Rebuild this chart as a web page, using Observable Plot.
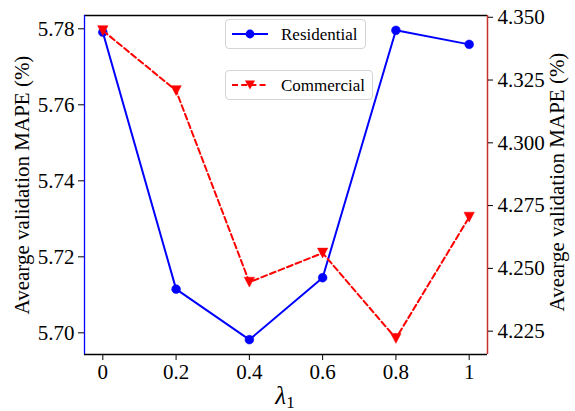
<!DOCTYPE html>
<html>
<head>
<meta charset="utf-8">
<script src="https://cdn.jsdelivr.net/npm/d3@7"></script>
<script src="https://cdn.jsdelivr.net/npm/@observablehq/plot@0.6"></script>
<style>
  html, body { margin: 0; padding: 0; background: #fff; }
  #wrap { position: relative; width: 575px; height: 411px; font-family: "Liberation Serif", "Times New Roman", serif; }
  #wrap > svg { position: absolute; left: 0; top: 0; overflow: visible; }
  #wrap svg, #wrap svg text { font-family: "Liberation Serif", "Times New Roman", serif !important; }
  .legend { position: absolute; border: 1px solid #d4d4d4; border-radius: 4px; background: rgba(255,255,255,0.85); font-size: 17px; box-sizing: border-box; }
  .legend span { position: absolute; left: 55px; top: 50%; transform: translateY(-50%); white-space: nowrap; color: #000; line-height: 1; }
  #xlabel { position: absolute; left: 285px; top: 397px; transform: translate(-50%, -50%); font-size: 25px; line-height: 1; white-space: nowrap; }
  #xlabel sub { font-size: 17px; font-style: normal; vertical-align: -4px; line-height: 1; }
</style>
</head>
<body>
<div id="wrap"></div>
<script>
// ---- data ----
const lambdas = [0, 0.2, 0.4, 0.6, 0.8, 1];
const residential = [5.7791, 5.7115, 5.6982, 5.7145, 5.7796, 5.7759];
const commercial = [4.3447, 4.3208, 4.2445, 4.2561, 4.2221, 4.2704];
const xTicks = [0, 0.2, 0.4, 0.6, 0.8, 1];
const xTickLabels = ["0", "0.2", "0.4", "0.6", "0.8", "1"];
const leftTicks = [5.70, 5.72, 5.74, 5.76, 5.78];
const rightTicks = [4.225, 4.250, 4.275, 4.300, 4.325, 4.350];
const seriesNames = ["Residential", "Commercial"];
const yLabel = "Avearge validation MAPE (%)";

// ---- layout ----
const W = 575, H = 411;
const margins = {marginLeft: 84, marginRight: 88, marginTop: 15, marginBottom: 57};
const xDomain = [-0.05, 1.05];
const leftDomain = [5.6943, 5.7835];
const rightDomain = [4.2157, 4.3507];
const blue = "#0000ff", red = "#ff0000", redSpine = "#c8302c";
const font = {fontFamily: "Liberation Serif, serif", fontSize: "21px", background: "transparent", color: "#000", overflow: "visible"};

const resData = lambdas.map((x, i) => ({x, y: residential[i]}));
const comData = lambdas.map((x, i) => ({x, y: commercial[i]}));

const triangleDown = {
  draw(ctx, size) {
    const r = Math.sqrt(size / Math.PI);
    const w = r * 1.0, h = r * 0.95;
    ctx.moveTo(-w, -h);
    ctx.lineTo(w, -h);
    ctx.lineTo(0, h);
    ctx.closePath();
  }
};

const xFmt = d => xTickLabels[xTicks.indexOf(d)];

const left = Plot.plot({
  width: W, height: H, ...margins,
  style: font,
  x: {domain: xDomain},
  y: {domain: leftDomain},
  marks: [
    Plot.ruleY([leftDomain[1]], {stroke: "black", strokeWidth: 1.3}),
    Plot.ruleY([leftDomain[0]], {stroke: "black", strokeWidth: 1.3}),
    Plot.ruleX([xDomain[0]], {stroke: blue, strokeWidth: 1.3}),
    Plot.axisX({ticks: xTicks, tickFormat: xFmt, tickSize: 6, tickPadding: 4, label: null, fontSize: 21}),
    Plot.axisY({ticks: leftTicks, tickFormat: d3.format(".2f"), tickSize: 6, tickPadding: 4, label: null, fontSize: 21}),
    Plot.text([yLabel], {frameAnchor: "left", dx: -62, rotate: -90, textAnchor: "middle", lineAnchor: "middle", fontSize: 21}),
    Plot.line(resData, {x: "x", y: "y", stroke: blue, strokeWidth: 2}),
    Plot.dot(resData, {x: "x", y: "y", r: 4.4, fill: blue, stroke: blue, strokeWidth: 0.5})
  ]
});

const right = Plot.plot({
  width: W, height: H, ...margins,
  style: font,
  x: {domain: xDomain, axis: null},
  y: {domain: rightDomain, axis: null},
  marks: [
    Plot.ruleX([xDomain[1]], {stroke: redSpine, strokeWidth: 1.5}),
    Plot.axisY({anchor: "right", ticks: rightTicks, tickFormat: d3.format(".3f"), tickSize: 5, tickPadding: 5, label: null, fontSize: 21}),
    Plot.text([yLabel], {frameAnchor: "right", dx: 70, dy: -3, rotate: -90, textAnchor: "middle", lineAnchor: "middle", fontSize: 21}),
    Plot.line(comData, {x: "x", y: "y", stroke: red, strokeWidth: 2, strokeDasharray: "6,3.2"}),
    Plot.dot(comData, {x: "x", y: "y", r: 5.2, symbol: triangleDown, fill: red, stroke: red, strokeWidth: 0.5})
  ]
});

const wrap = document.getElementById("wrap");
wrap.appendChild(left);
wrap.appendChild(right);

// ---- legends ----
function legend(name, l, t, w, h, glyph) {
  const d = document.createElement("div");
  d.className = "legend";
  Object.assign(d.style, {left: l + "px", top: t + "px", width: w + "px", height: h + "px"});
  d.innerHTML = `<svg width="40" height="${h - 2}" style="position:absolute;left:5px;top:0">${glyph(h - 2)}</svg><span>${name}</span>`;
  wrap.appendChild(d);
}
legend(seriesNames[0], 225, 19, 141, 30, hh => {
  const cy = hh / 2;
  return `<line x1="1" x2="37" y1="${cy}" y2="${cy}" stroke="${blue}" stroke-width="2"/><circle cx="19" cy="${cy}" r="4.4" fill="${blue}"/>`;
});
legend(seriesNames[1], 225, 70, 148, 30, hh => {
  const cy = hh / 2;
  return `<line x1="1" x2="37" y1="${cy}" y2="${cy}" stroke="${red}" stroke-width="2" stroke-dasharray="6,3.2"/><path d="M14,${cy - 4.6} L24,${cy - 4.6} L19,${cy + 4.6} Z" fill="${red}"/>`;
});

const xl = document.createElement("div");
xl.id = "xlabel";
xl.innerHTML = "<i>λ</i><sub>1</sub>";
wrap.appendChild(xl);
</script>
</body>
</html>
